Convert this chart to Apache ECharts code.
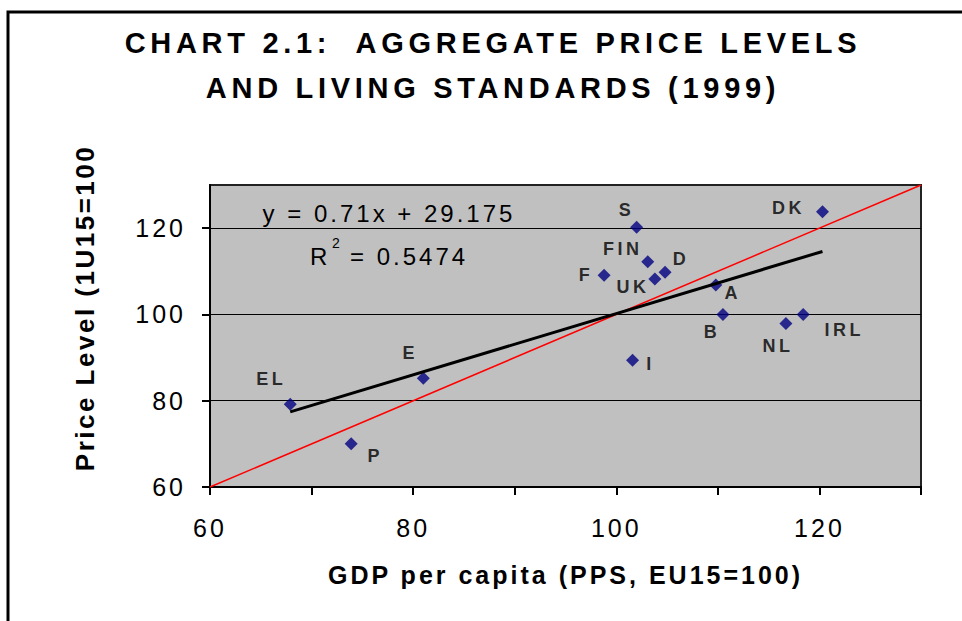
<!DOCTYPE html>
<html>
<head>
<meta charset="utf-8">
<script src="https://cdn.jsdelivr.net/npm/echarts@6.0.0/dist/echarts.min.js"></script>
<style>
html, body { margin: 0; padding: 0; background: #fff; }
#chart { width: 962px; height: 621px; }
#chart text { white-space: pre; }
</style>
</head>
<body>
<div id="chart"></div>
<script>
// 国家代码
var countries = ['DK', 'S', 'FIN', 'D', 'F', 'UK', 'A', 'B', 'NL', 'IRL', 'I', 'E', 'EL', 'P'];
// GDP per capita (PPS, EU15=100)
var gdp = [120.3, 102.0, 103.1, 104.8, 98.8, 103.8, 109.8, 110.5, 116.7, 118.4, 101.6, 81.0, 67.9, 73.9];
// 价格水平
var priceLevel = [123.8, 120.2, 112.2, 109.8, 109.1, 108.2, 106.8, 100.0, 97.9, 100.0, 89.4, 85.2, 79.2, 70.0];
// 趋势线 y = 0.71x + 29.175 的两端
var trendX = [67.9, 120.3];
var trendY = [77.4, 114.6];
// 45度线
var diagX = [60, 130];
var diagY = [60, 130];
// 刻度标签
var xTicks = [60, 80, 100, 120];
var yTicks = [60, 80, 100, 120];

var FONT = '"Liberation Sans", Arial, sans-serif';

// 标签相对数据点的偏移
var labelOffset = {
    DK: [-34, -4], S: [-10, -17], FIN: [-25, -13], D: [16, -13], F: [-18, 0],
    UK: [-22, 8], A: [17, 8], B: [-11, 18], NL: [-8, 23], IRL: [41, 16],
    I: [18, 4], E: [-13, -25], EL: [-19, -25], P: [24, 12]
};

// 按字号设置字间距
var spacing = { 29: 4.7, 26: 2.5, 25: 3, 24: 3, 18: 3.5 };

var chart = echarts.init(document.getElementById('chart'), null, { renderer: 'svg' });

var pointData = countries.map(function (c, i) {
    return { name: c, value: [gdp[i], priceLevel[i]], label: { offset: labelOffset[c] } };
});

function txt(x, y, text, size, bold, align, extra) {
    var el = {
        type: 'text', x: x, y: y, z: 50,
        style: { text: text, fontSize: size, fontWeight: bold ? 'bold' : 'normal', fontFamily: FONT,
            fill: '#000', textAlign: align, textVerticalAlign: 'middle' }
    };
    if (extra) Object.assign(el, extra);
    return el;
}

option = {
    animation: false,
    backgroundColor: '#fff',
    textStyle: { fontFamily: FONT },
    grid: {
        left: 210, right: 41, top: 185, bottom: 134,
        show: true, backgroundColor: '#c0c0c0', borderColor: '#222', borderWidth: 2
    },
    graphic: [
        {
            type: 'rect', silent: true, z: 100,
            shape: { x: 8, y: 12, width: 1000, height: 700 },
            style: { fill: 'none', stroke: '#000', lineWidth: 3 }
        },
        txt(493, 43, 'CHART 2.1:  AGGREGATE PRICE LEVELS', 29, true, 'center'),
        txt(493, 88, 'AND LIVING STANDARDS (1999)', 29, true, 'center'),
        txt(85, 308, 'Price Level (1U15=100', 26, true, 'center', { rotation: Math.PI / 2 }),
        txt(389, 213, 'y = 0.71x + 29.175', 24, false, 'center'),
        // R² = 0.5474
        txt(310, 256.5, 'R', 24, false, 'left'),
        txt(332, 243, '2', 14, false, 'left'),
        txt(350, 256.5, '= 0.5474', 24, false, 'left')
    ],
    xAxis: {
        type: 'value', min: 60, max: 130, interval: 10,
        name: 'GDP per capita (PPS, EU15=100)', nameLocation: 'middle', nameGap: 75,
        nameTextStyle: { fontSize: 25, fontWeight: 'bold', color: '#000', fontFamily: FONT },
        axisLine: { show: true, onZero: false, lineStyle: { color: '#000', width: 2 } },
        axisTick: { show: true, length: 8, lineStyle: { color: '#000', width: 2 } },
        axisLabel: {
            margin: 28, fontSize: 25, color: '#000', fontFamily: FONT,
            formatter: function (v) { return xTicks.indexOf(v) >= 0 ? String(v) : ''; }
        },
        splitLine: { show: false }
    },
    yAxis: {
        type: 'value', min: 60, max: 130, interval: 20,
        axisLine: { show: true, onZero: false, lineStyle: { color: '#000', width: 2 } },
        axisTick: { show: true, length: 8, customValues: yTicks, lineStyle: { color: '#000', width: 2 } },
        axisLabel: {
            margin: 24, fontSize: 25, color: '#000', fontFamily: FONT,
            formatter: function (v) { return yTicks.indexOf(v) >= 0 ? String(v) : ''; }
        },
        splitLine: { show: true, lineStyle: { color: '#000', width: 1.2 } }
    },
    series: [
        {
            type: 'line', symbol: 'none', silent: true,
            data: diagX.map(function (x, i) { return [x, diagY[i]]; }),
            lineStyle: { color: '#ff0000', width: 1.5 }
        },
        {
            type: 'line', symbol: 'none', silent: true,
            data: trendX.map(function (x, i) { return [x, trendY[i]]; }),
            lineStyle: { color: '#000', width: 3 }
        },
        {
            type: 'scatter', symbol: 'diamond', symbolSize: 13,
            itemStyle: { color: '#000080' },
            label: {
                show: true, position: 'inside', formatter: '{b}',
                color: '#000', fontSize: 18, fontWeight: 'bold', fontFamily: FONT
            },
            data: pointData
        }
    ]
};

function applySpacing() {
    var texts = document.querySelectorAll('#chart text');
    texts.forEach(function (t) {
        var fs = Math.round(parseFloat(getComputedStyle(t).fontSize));
        if (spacing[fs]) t.style.letterSpacing = spacing[fs] + 'px';
    });
}

chart.setOption(option);
applySpacing();
chart.on('finished', applySpacing);
</script>
</body>
</html>
